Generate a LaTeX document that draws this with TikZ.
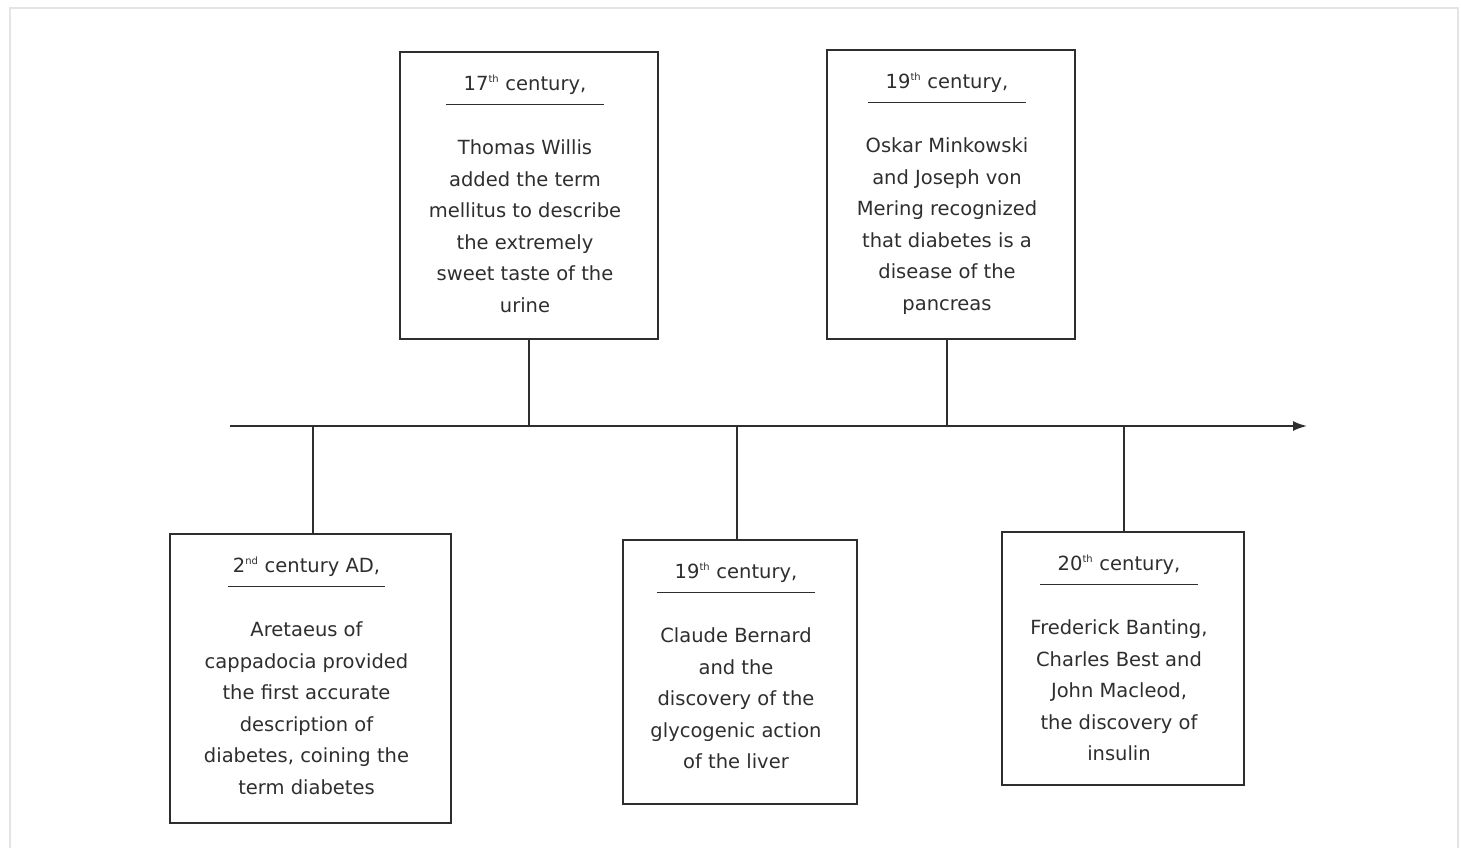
\documentclass[tikz,border=0pt]{standalone}
\usepackage{fontspec}
\setmainfont{DejaVu Sans}
\usepackage{xcolor}
\usetikzlibrary{positioning,calc,arrows.meta}
\definecolor{ink}{HTML}{2E2E2E}
\definecolor{framegray}{HTML}{E4E4E4}
\newcommand{\evfont}{\fontsize{19.5}{31.6}\selectfont\color{ink}}
\newcommand{\ord}[1]{\textsuperscript{\fontsize{10}{10}\selectfont #1}}
\tikzstyle{event}=[draw=ink, line width=1.5pt, inner sep=0pt]
\tikzstyle{hdr}=[font=\evfont, anchor=base, inner xsep=0pt, inner ysep=14pt, text depth=0pt, minimum width=157pt, xshift=-4pt,
  append after command={(\tikzlastnode.south west) edge[draw=ink, line width=1.2pt] (\tikzlastnode.south east)}]
\tikzstyle{body}=[font=\evfont, align=center, inner sep=0pt, anchor=north, xshift=-4pt]
\tikzstyle{stem}=[draw=ink, line width=1.5pt]
\tikzstyle{axis}=[draw=ink, line width=1.8pt, -{Latex[length=14pt,width=10pt]}]

\begin{document}
\begin{tikzpicture}[x=1pt,y=-1pt]
\useasboundingbox (0,0) rectangle (1461,848);
\draw[framegray, line width=2.5pt] (10,8) rectangle (1458,880);
% time axis
\coordinate (axisL) at (230,426);
\coordinate (axisR) at (1307,426);
\draw[axis] (axisL) -- (axisR);
% boxes above the axis
\node[event, minimum width=258pt, minimum height=287pt] (willis) at (529,195.5) {};
\node[below=39pt of willis.north, hdr] (willisH) {17\ord{th} century,};
\node[below=81pt of willis.north, body] (willisB) {\strut Thomas Willis\\added the term\\mellitus to describe\\the extremely\\sweet taste of the\\urine};
\node[event, minimum width=248pt, minimum height=289pt] (minkowski) at (951,194.5) {};
\node[below=39pt of minkowski.north, hdr] (minkowskiH) {19\ord{th} century,};
\node[below=81pt of minkowski.north, body] (minkowskiB) {\strut Oskar Minkowski\\and Joseph von\\Mering recognized\\that diabetes is a\\disease of the\\pancreas};
% boxes below the axis
\node[event, minimum width=281pt, minimum height=289pt] (aretaeus) at (310.5,678.5) {};
\node[below=39pt of aretaeus.north, hdr] (aretaeusH) {2\ord{nd} century AD,};
\node[below=81pt of aretaeus.north, body] (aretaeusB) {\strut Aretaeus of\\cappadocia provided\\the first accurate\\description of\\diabetes, coining the\\term diabetes};
\node[event, minimum width=234pt, minimum height=264pt] (bernard) at (740,672) {};
\node[below=39pt of bernard.north, hdr] (bernardH) {19\ord{th} century,};
\node[below=81pt of bernard.north, body] (bernardB) {\strut Claude Bernard\\and the\\discovery of the\\glycogenic action\\of the liver};
\node[event, minimum width=242pt, minimum height=253pt] (banting) at (1123,658.5) {};
\node[below=39pt of banting.north, hdr] (bantingH) {20\ord{th} century,};
\node[below=81pt of banting.north, body] (bantingB) {\strut Frederick Banting,\\Charles Best and\\John Macleod,\\the discovery of\\insulin};
% stems
\draw[stem] (willis.south) -- (willis.south |- axisL);
\draw[stem] ([xshift=-4pt]minkowski.south) -- ([xshift=-4pt]minkowski.south |- axisL);
\draw[stem] ([xshift=2.5pt]aretaeus.north) -- ([xshift=2.5pt]aretaeus.north |- axisL);
\draw[stem] ([xshift=-3pt]bernard.north) -- ([xshift=-3pt]bernard.north |- axisL);
\draw[stem] ([xshift=1pt]banting.north) -- ([xshift=1pt]banting.north |- axisL);
\end{tikzpicture}
\end{document}
